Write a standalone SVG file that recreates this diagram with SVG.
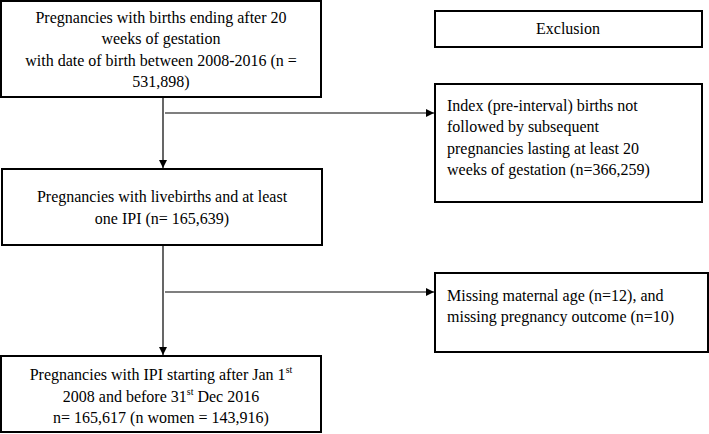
<svg xmlns="http://www.w3.org/2000/svg" width="709" height="434" viewBox="0 0 709 434">
<style>
rect{fill:#fff;stroke:#000;stroke-width:2}
text{font-family:"Liberation Serif",serif;font-size:16px;fill:#000}
.c{text-anchor:middle}
line{stroke:#000;stroke-width:1.2}
</style>
<defs><marker id="a" viewBox="0 0 10 10" refX="10" refY="5" markerWidth="8" markerHeight="8" markerUnits="userSpaceOnUse" orient="auto"><path d="M0,0L10,5L0,10z" fill="#000"/></marker></defs>
<rect width="709" height="434" style="stroke:none"/>
<g id="connectors">
<line x1="163" y1="97" x2="163" y2="168" marker-end="url(#a)"/>
<line x1="165" y1="113" x2="434" y2="113" marker-end="url(#a)"/>
<line x1="163" y1="245" x2="163" y2="355" marker-end="url(#a)"/>
<line x1="165" y1="292" x2="434" y2="292" marker-end="url(#a)"/>
</g>
<g id="n1"><rect x="1" y="1" width="320" height="96"/>
<text class="c" x="161" y="23">Pregnancies with births ending after 20</text>
<text class="c" x="161" y="44">weeks of gestation</text>
<text class="c" x="161" y="66">with date of birth between 2008-2016 (n =</text>
<text class="c" x="161" y="87">531,898)</text></g>
<g id="excl"><rect x="435" y="11" width="267" height="36"/>
<text class="c" x="568" y="34">Exclusion</text></g>
<g id="n3"><rect x="435" y="84" width="267" height="118"/>
<text x="447" y="111">Index (pre-interval) births not</text>
<text x="447" y="132">followed by subsequent</text>
<text x="447" y="154">pregnancies lasting at least 20</text>
<text x="447" y="175">weeks of gestation (n=366,259)</text></g>
<g id="n2"><rect x="2" y="169" width="320" height="76"/>
<text class="c" x="162" y="202">Pregnancies with livebirths and at least</text>
<text class="c" x="162" y="224">one IPI (n= 165,639)</text></g>
<g id="n4"><rect x="435" y="273" width="273" height="79"/>
<text x="447" y="301">Missing maternal age (n=12), and</text>
<text x="447" y="322">missing pregnancy outcome (n=10)</text></g>
<g id="n5"><rect x="1" y="356" width="320" height="76"/>
<text class="c" x="161" y="380">Pregnancies with IPI starting after Jan 1<tspan font-size="10" dy="-7">st</tspan></text>
<text class="c" x="161" y="402">2008 and before 31<tspan font-size="10" dy="-7">st</tspan><tspan dy="7"> Dec 2016</tspan></text>
<text class="c" x="161" y="423">n= 165,617 (n women = 143,916)</text></g>
</svg>
